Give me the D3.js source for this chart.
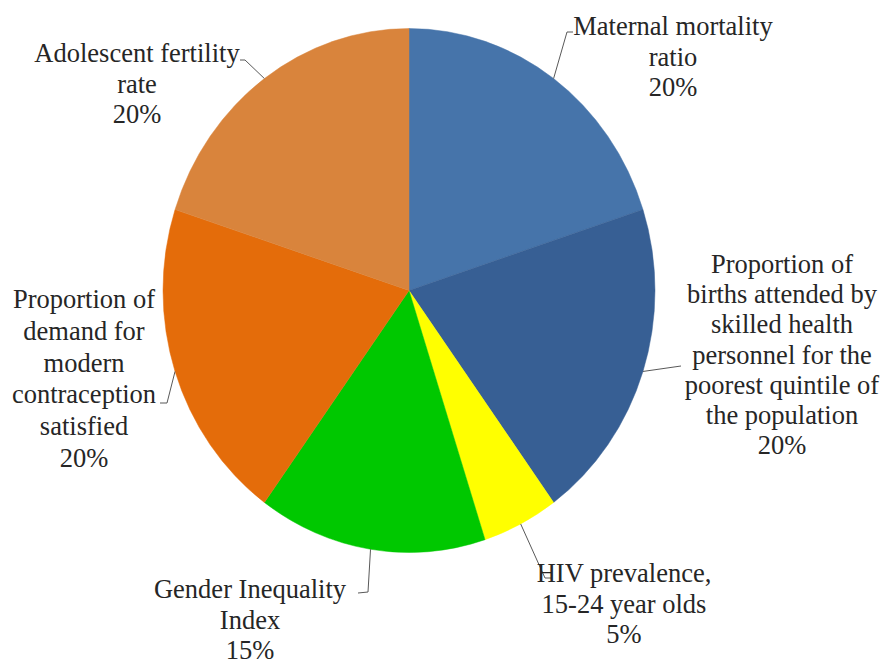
<!DOCTYPE html>
<html>
<head>
<meta charset="utf-8">
<script src="https://cdn.jsdelivr.net/npm/d3@7"></script>
<style>
  html, body { margin: 0; padding: 0; background: #fff; }
  svg { display: block; }
</style>
</head>
<body>
<svg id="chart" width="883" height="667"></svg>
<script>
// ---- data ----
const categories = [
  "Maternal mortality ratio",
  "Proportion of births attended by skilled health personnel for the poorest quintile of the population",
  "HIV prevalence, 15-24 year olds",
  "Gender Inequality Index",
  "Proportion of demand for modern contraception satisfied",
  "Adolescent fertility rate"
];
const values = [20, 20, 5, 15, 20, 20];
const colors = ["#4674AA", "#375F94", "#FFFF00", "#00C800", "#E46C0A", "#D9843C"];
const labelLines = [
  ["Maternal mortality", "ratio", "20%"],
  ["Proportion of", "births attended by", "skilled health", "personnel for the", "poorest quintile of", "the population", "20%"],
  ["HIV prevalence,", "15-24 year olds", "5%"],
  ["Gender Inequality", "Index", "15%"],
  ["Proportion of", "demand for", "modern", "contraception", "satisfied", "20%"],
  ["Adolescent fertility", "rate", "20%"]
];

// ---- layout (label placement) ----
const cx = 409, cy = 290.5, rx = 246, ry = 262;
const labelLayout = [
  { tx: 673, ty: 35,  lh: 30.5, elbow: [567, 32],  end: [573, 32] },
  { tx: 782, ty: 273, lh: 30.2, elbow: [674, 367], end: [681, 366] },
  { tx: 624, ty: 582, lh: 30.5, elbow: [545, 578], end: [552, 578] },
  { tx: 250, ty: 598, lh: 30.5, elbow: [368, 592], end: [358, 593] },
  { tx: 84,  ty: 308, lh: 31.8, elbow: [167, 403], end: [160, 403] },
  { tx: 137, ty: 62,  lh: 30.5, elbow: [245, 60],  end: [240, 60] }
];

const svg = d3.select("#chart");
const pie = d3.pie().sort(null).value(d => d)(values);
const arc = d3.arc().innerRadius(0).outerRadius(ry);

const g = svg.append("g")
  .attr("transform", `translate(${cx},${cy}) scale(${rx / ry},1)`);

g.selectAll("path.slice")
  .data(pie)
  .enter().append("path")
  .attr("class", "slice")
  .attr("d", arc)
  .attr("fill", (d, i) => colors[i])
  .attr("stroke", (d, i) => colors[i])
  .attr("stroke-width", 0.5);

// leader lines
pie.forEach((d, i) => {
  const a = (d.startAngle + d.endAngle) / 2;
  const sx = cx + rx * Math.sin(a);
  const sy = cy - ry * Math.cos(a);
  const L = labelLayout[i];
  svg.append("polyline")
    .attr("points", [[sx, sy], L.elbow, L.end].map(p => p.join(",")).join(" "))
    .attr("fill", "none")
    .attr("stroke", "#595959")
    .attr("stroke-width", 1);
});

// labels
labelLines.forEach((lines, i) => {
  const L = labelLayout[i];
  const t = svg.append("text")
    .attr("text-anchor", "middle")
    .attr("fill", "#262626")
    .attr("font-size", 26.5)
    .style("font-family", '"Liberation Serif"');
  lines.forEach((ln, k) => {
    t.append("tspan")
      .attr("x", L.tx)
      .attr("y", L.ty + k * L.lh)
      .text(ln);
  });
});
</script>
</body>
</html>
